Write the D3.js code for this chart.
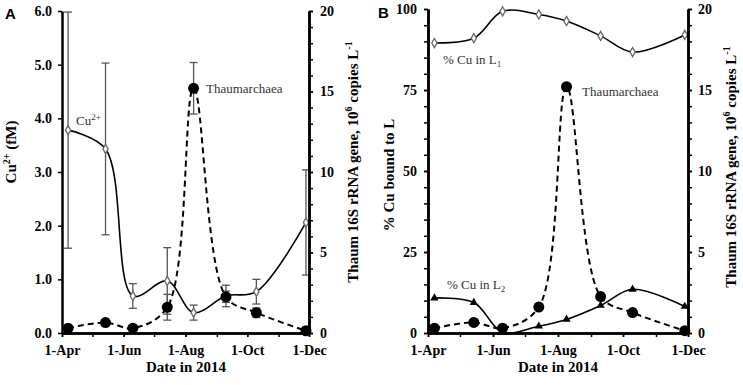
<!DOCTYPE html>
<html lang="en">
<head>
	<meta charset="UTF-8">
	<title>Cu and Thaumarchaea 2014</title>
	<style type="text/css">
		body { margin: 0; background: #fff; }
		svg text { font-family: "Liberation Serif", Tinos, "Times New Roman", Times, "DejaVu Serif", serif !important; }
		svg text.panel { font-family: "Liberation Sans", Arimo, Arial, "DejaVu Sans", sans-serif !important; }
		.tick text { font-size: 14px; font-weight: bold; fill: #000; }
		.axis path, .axis line { stroke: #000; }
		.axis path { stroke-width: 2.5; }
		.axis line { stroke-width: 1.5; }
		.note { font-size: 13px; fill: #333; }
		.title { font-size: 15px; font-weight: bold; fill: #000; }
	</style>
</head>
<body>
	<svg id="chart" width="743" height="385"></svg>
	<script type="text/javascript" src="https://cdn.jsdelivr.net/npm/d3@7/dist/d3.min.js"></script>
	<script type="text/javascript">
		// sampling dates and measured series
		var dates = ['2014-04-07', '2014-05-14', '2014-06-10', '2014-07-14', '2014-08-09', '2014-09-10', '2014-10-10', '2014-11-28'];
		var cuFree = [3.78, 3.43, 0.69, 0.97, 0.38, 0.69, 0.77, 2.06];
		var cuFreeErr = [2.2, 1.6, 0.23, 0.62, 0.14, 0.2, 0.23, 0.98];
		var thaum = [0.3, 0.65, 0.3, 1.6, 15.2, 2.25, 1.26, 0.14];
		var thaumErr = [0, 0, 0, 0.8, 1.6, 0.35, 0.3, 0];
		var cuL1 = [89.5, 91, 99.3, 98.3, 96.3, 91.7, 86.7, 92];
		var cuL2 = [10.8, 9.4, 0.3, 2.1, 4.2, 8.5, 13.5, 8.2];

		var dateRange = ['2014-04-01', '2014-12-01'];
		var majorDates = ['2014-04-01', '2014-06-01', '2014-08-01', '2014-10-01', '2014-12-01'];
		var cuTicks = [0, 1, 2, 3, 4, 5, 6];
		var thaumTicks = [0, 5, 10, 15, 20];
		var pctTicks = [0, 25, 50, 75, 100];

		var parse = d3.utcParse('%Y-%m-%d');
		var fmt = d3.utcFormat('%-d-%b');
		var days = dates.map(parse);

		var svg = d3.select('#chart');

		var smooth = d3.curveCatmullRom.alpha(0.5);

		function xAxis(g, x, bottom) {
			g.append('g')
				.attr('class', 'axis')
				.attr('transform', 'translate(0,' + bottom + ')')
				.call(d3.axisBottom(x).tickValues(majorDates.map(parse)).tickFormat(fmt)
					.tickSize(4).tickSizeOuter(0).tickPadding(8));
			g.append('g')
				.attr('class', 'axis')
				.attr('transform', 'translate(0,' + bottom + ')')
				.call(d3.axisBottom(x).ticks(d3.utcMonth.every(1)).tickFormat('')
					.tickSize(4).tickSizeOuter(0));
		}

		function yAxis(g, axisFn, pos, y, major, minorStep, format, pad) {
			var lo = y.domain()[0], hi = y.domain()[1];
			if (minorStep) {
				g.append('g')
					.attr('class', 'axis')
					.attr('transform', 'translate(' + pos + ',0)')
					.call(axisFn(y).tickValues(d3.range(lo, hi + 0.001, minorStep)).tickFormat('')
						.tickSize(4).tickSizeOuter(0));
			}
			g.append('g')
				.attr('class', 'axis')
				.attr('transform', 'translate(' + pos + ',0)')
				.call(axisFn(y).tickValues(major).tickFormat(format)
					.tickSize(4).tickSizeOuter(0).tickPadding(pad));
		}

		function errorBars(g, x, y, vals, errs) {
			var bars = g.append('g')
				.selectAll('g')
				.data(vals.map(function (v, i) { return {d: days[i], v: v, e: errs[i]}; })
					.filter(function (d) { return d.e > 0; }))
				.enter()
				.append('g')
				.attr('stroke', '#555')
				.attr('stroke-width', 1.3);
			bars.append('line')
				.attr('x1', function (d) { return x(d.d); })
				.attr('x2', function (d) { return x(d.d); })
				.attr('y1', function (d) { return y(d.v - d.e); })
				.attr('y2', function (d) { return y(d.v + d.e); });
			[-1, 1].forEach(function (s) {
				bars.append('line')
					.attr('x1', function (d) { return x(d.d) - 4; })
					.attr('x2', function (d) { return x(d.d) + 4; })
					.attr('y1', function (d) { return y(d.v + s * d.e); })
					.attr('y2', function (d) { return y(d.v + s * d.e); });
			});
		}

		function seriesLine(g, x, y, vals, dashed) {
			var line = d3.line()
				.x(function (d, i) { return x(days[i]); })
				.y(function (d) { return y(d); })
				.curve(smooth);
			g.append('path')
				.datum(vals)
				.attr('d', line)
				.attr('fill', 'none')
				.attr('stroke', '#000')
				.attr('stroke-width', dashed ? 2 : 1.6)
				.attr('stroke-dasharray', dashed ? '6,4' : null);
		}

		function diamonds(g, x, y, vals) {
			g.append('g')
				.selectAll('path')
				.data(vals)
				.enter()
				.append('path')
				.attr('d', d3.symbol(d3.symbolDiamond, 24))
				.attr('transform', function (d, i) { return 'translate(' + x(days[i]) + ',' + y(d) + ')'; })
				.attr('fill', '#fff')
				.attr('stroke', '#666')
				.attr('stroke-width', 1.3);
		}

		function dots(g, x, y, vals) {
			g.append('g')
				.selectAll('circle')
				.data(vals)
				.enter()
				.append('circle')
				.attr('cx', function (d, i) { return x(days[i]); })
				.attr('cy', function (d) { return y(d); })
				.attr('r', 5.5)
				.attr('fill', '#000');
		}

		function triangles(g, x, y, vals) {
			g.append('g')
				.selectAll('path')
				.data(vals)
				.enter()
				.append('path')
				.attr('d', d3.symbol(d3.symbolTriangle, 30))
				.attr('transform', function (d, i) { return 'translate(' + x(days[i]) + ',' + y(d) + ')'; })
				.attr('fill', '#000');
		}

		function rotTitle(x, y, parts) {
			var t = svg.append('text')
				.attr('class', 'title')
				.attr('text-anchor', 'middle')
				.attr('transform', 'translate(' + x + ',' + y + ') rotate(-90)');
			parts.forEach(function (p) {
				var s = t.append('tspan').text(p[0]);
				if (p[1] === 'sup') s.attr('dy', -6).attr('font-size', '10px');
				if (p[1] === 'back') s.attr('dy', 6);
			});
		}

		// ---------- panel A ----------
		var xA = d3.scaleUtc().domain(dateRange.map(parse)).range([62, 309]);
		var yCu = d3.scaleLinear().domain([0, 6]).range([333, 11]);
		var yThA = d3.scaleLinear().domain([0, 20]).range([333, 11]);
		var gA = svg.append('g');

		errorBars(gA, xA, yCu, cuFree, cuFreeErr);
		errorBars(gA, xA, yThA, thaum, thaumErr);
		seriesLine(gA, xA, yCu, cuFree, false);
		seriesLine(gA, xA, yThA, thaum, true);
		diamonds(gA, xA, yCu, cuFree);
		dots(gA, xA, yThA, thaum);

		yAxis(gA, d3.axisLeft, 62, yCu, cuTicks, 0, d3.format('.1f'), 6);
		yAxis(gA, d3.axisRight, 309, yThA, thaumTicks, 1, d3.format('d'), 7);
		xAxis(gA, xA, 333);

		var cuLab = gA.append('text').attr('class', 'note').attr('x', 76).attr('y', 125);
		cuLab.append('tspan').text('Cu');
		cuLab.append('tspan').text('2+').attr('dy', -5).attr('font-size', '9px');
		gA.append('text').attr('class', 'note').attr('x', 206).attr('y', 93).text('Thaumarchaea');

		svg.append('text').attr('class', 'panel').attr('x', 5).attr('y', 19)
			.attr('font-size', '15px').attr('font-weight', 'bold').text('A');

		rotTitle(16, 152, [['Cu'], ['2+', 'sup'], [' (fM)', 'back']]);
		rotTitle(358, 162, [['Thaum 16S rRNA gene, 10'], ['6', 'sup'], [' copies L', 'back'], ['-1', 'sup']]);
		svg.append('text').attr('class', 'title').attr('x', 186).attr('y', 372)
			.attr('text-anchor', 'middle').attr('font-size', '16px').text('Date in 2014');

		// ---------- panel B ----------
		var xB = d3.scaleUtc().domain(dateRange.map(parse)).range([428, 688]);
		var yPct = d3.scaleLinear().domain([0, 100]).range([333, 9]);
		var yThB = d3.scaleLinear().domain([0, 20]).range([333, 9]);
		var gB = svg.append('g');

		seriesLine(gB, xB, yPct, cuL1, false);
		seriesLine(gB, xB, yPct, cuL2, false);
		seriesLine(gB, xB, yThB, thaum, true);
		diamonds(gB, xB, yPct, cuL1);
		triangles(gB, xB, yPct, cuL2);
		dots(gB, xB, yThB, thaum);

		yAxis(gB, d3.axisLeft, 428, yPct, pctTicks, 5, d3.format('d'), 7);
		yAxis(gB, d3.axisRight, 688, yThB, thaumTicks, 1, d3.format('d'), 6);
		xAxis(gB, xB, 333);

		var l1 = gB.append('text').attr('class', 'note').attr('x', 443).attr('y', 64);
		l1.append('tspan').text('% Cu in L');
		l1.append('tspan').text('1').attr('dy', 3).attr('font-size', '9px');
		var l2 = gB.append('text').attr('class', 'note').attr('x', 447).attr('y', 289);
		l2.append('tspan').text('% Cu in L');
		l2.append('tspan').text('2').attr('dy', 3).attr('font-size', '9px');
		gB.append('text').attr('class', 'note').attr('x', 582).attr('y', 96).text('Thaumarchaea');

		svg.append('text').attr('class', 'panel').attr('x', 378).attr('y', 18)
			.attr('font-size', '15px').attr('font-weight', 'bold').text('B');

		rotTitle(394, 175, [['% Cu bound to L']]);
		rotTitle(736, 167, [['Thaum 16S rRNA gene, 10'], ['6', 'sup'], [' copies L', 'back'], ['-1', 'sup']]);
		svg.append('text').attr('class', 'title').attr('x', 558).attr('y', 372)
			.attr('text-anchor', 'middle').attr('font-size', '16px').text('Date in 2014');
	</script>
</body>
</html>
